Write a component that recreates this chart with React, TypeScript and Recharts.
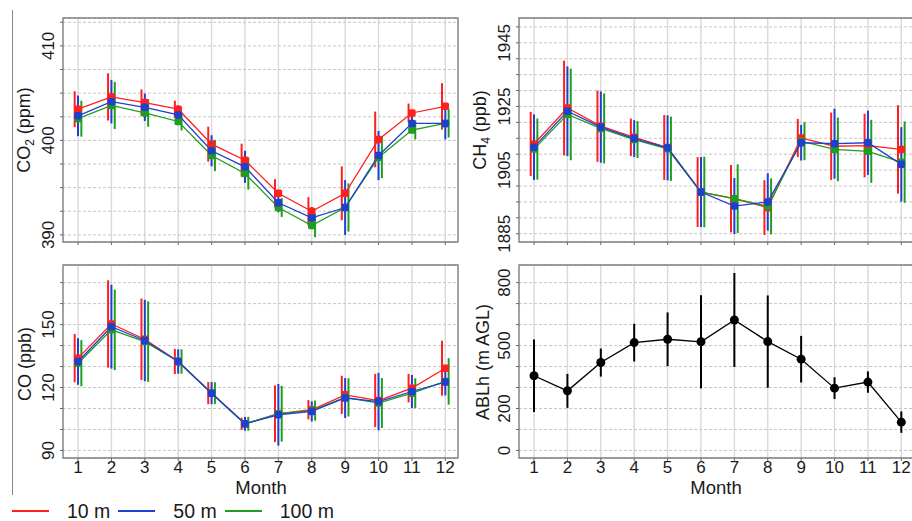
import React from "react";
import {
  CartesianGrid,
  ComposedChart,
  ErrorBar,
  Line,
  ReferenceArea,
  Scatter,
  XAxis,
  YAxis,
} from "recharts";

// months on the x axis
const months = [1, 2, 3, 4, 5, 6, 7, 8, 9, 10, 11, 12];

// CO2 (ppm), monthly mean and sd at three heights
const co2Mean10 = [403.3, 404.6, 404.0, 403.3, 399.6, 397.9, 394.4, 392.5, 394.4, 400.1, 402.9, 403.6];
const co2Sd10 = [1.9, 2.5, 1.4, 0.9, 1.85, 1.75, 1.5, 1.5, 2.85, 2.95, 1.0, 2.45];
const co2Mean50 = [402.6, 404.1, 403.5, 402.7, 398.9, 397.2, 393.4, 391.8, 392.9, 398.4, 401.8, 401.8];
const co2Sd50 = [2.15, 2.3, 1.45, 1.0, 1.65, 1.7, 1.0, 1.15, 2.9, 2.6, 0.9, 1.7];
const co2Mean100 = [402.3, 403.7, 402.9, 402.0, 398.4, 396.5, 392.9, 391.0, 392.9, 398.2, 401.1, 401.8];
const co2Sd100 = [1.9, 2.5, 1.45, 0.95, 1.65, 1.7, 1.0, 1.25, 2.55, 2.2, 1.0, 1.5];

// CH4 (ppb)
const ch4Mean10 = [1913.2, 1924.5, 1918.8, 1915.3, 1912.1, 1898.1, 1896.0, 1893.2, 1915.1, 1912.5, 1912.7, 1911.5];
const ch4Sd10 = [10.1, 14.9, 11.2, 5.9, 10.2, 11.0, 10.6, 8.6, 6.0, 10.6, 10.0, 13.9];
const ch4Mean50 = [1912.2, 1923.5, 1918.5, 1914.9, 1912.0, 1898.1, 1893.7, 1895.0, 1913.6, 1913.3, 1913.6, 1906.8];
const ch4Sd50 = [10.3, 14.1, 11.2, 5.8, 10.2, 11.0, 8.8, 9.0, 5.6, 11.0, 10.1, 11.7];
const ch4Mean100 = [1911.6, 1922.5, 1918.1, 1914.6, 1911.7, 1898.1, 1896.0, 1893.6, 1914.1, 1911.5, 1910.9, 1907.5];
const ch4Sd100 = [9.6, 14.4, 11.0, 5.8, 10.1, 11.1, 10.8, 8.8, 6.0, 10.0, 9.9, 12.8];

// CO (ppb)
const coMean10 = [134.0, 150.3, 143.0, 132.4, 117.3, 102.7, 107.5, 109.4, 116.5, 113.8, 119.7, 129.2];
const coSd10 = [11.5, 20.8, 19.4, 6.0, 5.3, 2.9, 13.5, 4.6, 9.1, 12.7, 6.8, 13.1];
const coMean50 = [132.4, 149.0, 142.4, 132.4, 117.3, 102.7, 107.0, 108.6, 115.0, 113.3, 118.1, 122.6];
const coSd50 = [11.1, 20.0, 19.4, 5.8, 5.3, 3.3, 14.7, 4.8, 9.5, 13.7, 7.9, 6.4];
const coMean100 = [131.6, 147.5, 141.9, 132.4, 117.3, 102.7, 107.5, 109.0, 115.3, 112.6, 117.3, 122.9];
const coSd100 = [11.0, 19.2, 19.2, 5.8, 5.2, 3.3, 13.3, 4.8, 9.1, 11.9, 7.1, 11.1];

// ABL height (m AGL)
const ablMean = [356, 284, 419, 514, 530, 518, 622, 519, 435, 297, 326, 135];
const ablSd = [173, 81, 67, 90, 128, 222, 224, 220, 111, 52, 51, 51];

// y ticks (every gridline) and the ones that carry a label
const co2Ticks = [390, 392.5, 395, 397.5, 400, 402.5, 405, 407.5, 410, 412.5];
const co2Labels = [390, 400, 410];
const ch4Ticks = [1885, 1890, 1895, 1900, 1905, 1910, 1915, 1920, 1925, 1930, 1935, 1940, 1945, 1950];
const ch4Labels = [1885, 1905, 1925, 1945];
const coTicks = [90, 100, 110, 120, 130, 140, 150, 160, 170];
const coLabels = [90, 120, 150];
const ablTicks = [0, 100, 200, 300, 400, 500, 600, 700, 800];
const ablLabels = [0, 200, 500, 800];

const heights = ["10 m", "50 m", "100 m"];
const colors = ["#ff1f1f", "#1f3fcf", "#1e9e1e"];
const dodge = [-0.1, 0, 0.1];
// drawing order: red, green, blue on top
const drawOrder = [0, 2, 1];

const FONT = '"Liberation Sans", Arial, Helvetica, sans-serif';
const X_DOMAIN: [number, number] = [0.55, 12.38];

const makeYTick = (labels: number[]) => (props: any) => {
  const { x, y, payload } = props;
  if (!labels.includes(payload.value)) return <g />;
  const bx = x - 4;
  return (
    <text
      x={bx}
      y={y}
      transform={`rotate(-90 ${bx} ${y})`}
      textAnchor="middle"
      fontSize={17}
      fontFamily={FONT}
      fill="#1a1a1a"
    >
      {payload.value}
    </text>
  );
};

const XTick = (props: any) => {
  const { x, y, payload } = props;
  return (
    <text x={x} y={y + 10} textAnchor="middle" fontSize={17} fontFamily={FONT} fill="#1a1a1a">
      {payload.value}
    </text>
  );
};

const NoTick = () => <g />;

interface PanelProps {
  left: number;
  top: number;
  width: number;
  height: number;
  marginTop: number;
  marginRight: number;
  yAxisWidth: number;
  xAxisHeight: number;
  yDomain: [number, number];
  yTicks: number[];
  yLabels: number[];
  showMonths: boolean;
  means: number[][];
  sds: number[][];
  lineColors: string[];
  offsets: number[];
  order: number[];
  round?: boolean;
}

const Panel = (p: PanelProps) => {
  const rows = months.map((m, i) => {
    const r: any = { x: m };
    p.means.forEach((s, k) => (r[`s${k}`] = s[i]));
    return r;
  });
  const bars = p.means.map((s, k) =>
    months.map((m, i) => ({ x: m + p.offsets[k], y: s[i], err: p.sds[k][i] }))
  );
  const dotSize = 7.5;

  return (
    <div style={{ position: "absolute", left: p.left, top: p.top }}>
      <ComposedChart
        width={p.width}
        height={p.height}
        data={rows}
        margin={{ top: p.marginTop, right: p.marginRight, bottom: 0, left: 0 }}
      >
        <CartesianGrid horizontal={false} stroke="#d9d9d9" strokeWidth={1.4} />
        <CartesianGrid vertical={false} stroke="#c6c6c6" strokeDasharray="3 2" />
        <XAxis
          type="number"
          dataKey="x"
          domain={X_DOMAIN}
          ticks={months}
          interval={0}
          allowDataOverflow
          height={p.xAxisHeight}
          axisLine={false}
          tickSize={3}
          tickMargin={2}
          tickLine={{ stroke: "#666" }}
          tick={p.showMonths ? <XTick /> : <NoTick />}
        />
        <YAxis
          type="number"
          domain={p.yDomain}
          ticks={p.yTicks}
          interval={0}
          allowDataOverflow
          width={p.yAxisWidth}
          axisLine={false}
          tickSize={3}
          tickMargin={2}
          tickLine={{ stroke: "#666" }}
          tick={makeYTick(p.yLabels)}
        />
        <ReferenceArea
          x1={X_DOMAIN[0]}
          x2={X_DOMAIN[1]}
          y1={p.yDomain[0]}
          y2={p.yDomain[1]}
          fill="none"
          stroke="#808080"
          strokeWidth={1.3}
          ifOverflow="visible"
        />
        {p.order.map((k) => (
          <Scatter
            key={`bar-${k}`}
            data={bars[k]}
            dataKey="y"
            isAnimationActive={false}
            shape={() => <g />}
            legendType="none"
          >
            <ErrorBar
              dataKey="err"
              direction="y"
              width={0}
              stroke={p.lineColors[k]}
              strokeWidth={2}
              isAnimationActive={false}
            />
          </Scatter>
        ))}
        {p.order.map((k) => (
          <Line
            key={`line-${k}`}
            dataKey={`s${k}`}
            stroke={p.lineColors[k]}
            strokeWidth={1.3}
            isAnimationActive={false}
            dot={(d: any) =>
              p.round ? (
                <circle key={d.index} cx={d.cx} cy={d.cy} r={4.5} fill={p.lineColors[k]} />
              ) : (
                <rect
                  key={d.index}
                  x={d.cx - dotSize / 2}
                  y={d.cy - dotSize / 2}
                  width={dotSize}
                  height={dotSize}
                  rx={1.8}
                  fill={p.lineColors[k]}
                />
              )
            }
            activeDot={false}
          />
        ))}
      </ComposedChart>
    </div>
  );
};

const RotatedTitle = ({ cx, cy, children }: { cx: number; cy: number; children: React.ReactNode }) => (
  <div
    style={{
      position: "absolute",
      left: cx - 100,
      top: cy - 11,
      width: 200,
      height: 22,
      lineHeight: "22px",
      textAlign: "center",
      fontSize: 18,
      color: "#1a1a1a",
      transform: "rotate(-90deg)",
      whiteSpace: "nowrap",
    }}
  >
    {children}
  </div>
);

const MonthTitle = ({ cx }: { cx: number }) => (
  <div
    style={{
      position: "absolute",
      left: cx - 100,
      top: 477,
      width: 200,
      lineHeight: "22px",
      textAlign: "center",
      fontSize: 18.5,
      color: "#1a1a1a",
    }}
  >
    Month
  </div>
);

const sub = { fontSize: 12, verticalAlign: "-4px", lineHeight: 0 } as React.CSSProperties;

export default function App() {
  const gasOffsets = dodge;
  return (
    <div
      style={{
        position: "absolute",
        left: 0,
        top: 0,
        width: 912,
        height: 521,
        overflow: "hidden",
        background: "#fff",
        fontFamily: FONT,
      }}
    >
      <div style={{ position: "absolute", left: 12, top: 10, width: 1, height: 485, background: "#8a8a8a" }} />

      <Panel
        left={0}
        top={0}
        width={460}
        height={257}
        marginTop={18}
        marginRight={2}
        yAxisWidth={63}
        xAxisHeight={15}
        yDomain={[389.25, 412.95]}
        yTicks={co2Ticks}
        yLabels={co2Labels}
        showMonths={false}
        means={[co2Mean10, co2Mean50, co2Mean100]}
        sds={[co2Sd10, co2Sd50, co2Sd100]}
        lineColors={colors}
        offsets={gasOffsets}
        order={drawOrder}
      />
      <Panel
        left={460}
        top={0}
        width={454}
        height={257}
        marginTop={18}
        marginRight={0}
        yAxisWidth={59}
        xAxisHeight={15}
        yDomain={[1882.4, 1952.8]}
        yTicks={ch4Ticks}
        yLabels={ch4Labels}
        showMonths={false}
        means={[ch4Mean10, ch4Mean50, ch4Mean100]}
        sds={[ch4Sd10, ch4Sd50, ch4Sd100]}
        lineColors={colors}
        offsets={gasOffsets}
        order={drawOrder}
      />
      <Panel
        left={0}
        top={250}
        width={460}
        height={238}
        marginTop={15}
        marginRight={2}
        yAxisWidth={63}
        xAxisHeight={30}
        yDomain={[86.4, 178.4]}
        yTicks={coTicks}
        yLabels={coLabels}
        showMonths={true}
        means={[coMean10, coMean50, coMean100]}
        sds={[coSd10, coSd50, coSd100]}
        lineColors={colors}
        offsets={gasOffsets}
        order={drawOrder}
      />
      <Panel
        left={460}
        top={250}
        width={454}
        height={238}
        marginTop={15}
        marginRight={0}
        yAxisWidth={59}
        xAxisHeight={30}
        yDomain={[-36, 884]}
        yTicks={ablTicks}
        yLabels={ablLabels}
        showMonths={true}
        means={[ablMean]}
        sds={[ablSd]}
        lineColors={["#000"]}
        offsets={[0]}
        order={[0]}
        round
      />

      <RotatedTitle cx={24} cy={130}>
        CO<span style={sub}>2</span> (ppm)
      </RotatedTitle>
      <RotatedTitle cx={480} cy={130}>
        CH<span style={sub}>4</span> (ppb)
      </RotatedTitle>
      <RotatedTitle cx={25} cy={364}>
        CO (ppb)
      </RotatedTitle>
      <RotatedTitle cx={483} cy={362}>
        ABLh (m AGL)
      </RotatedTitle>

      <MonthTitle cx={261} />
      <MonthTitle cx={716} />

      <div
        style={{
          position: "absolute",
          left: 12,
          top: 499,
          display: "flex",
          alignItems: "center",
          fontSize: 19.5,
          lineHeight: "24px",
          color: "#1a1a1a",
        }}
      >
        {heights.map((h, i) => (
          <React.Fragment key={h}>
            <svg width={37} height={4} style={{ marginRight: 18 }}>
              <line x1={0} x2={37} y1={2} y2={2} stroke={colors[i]} strokeWidth={2} />
            </svg>
            <span style={{ marginRight: 8 }}>{h}</span>
          </React.Fragment>
        ))}
      </div>
    </div>
  );
}
